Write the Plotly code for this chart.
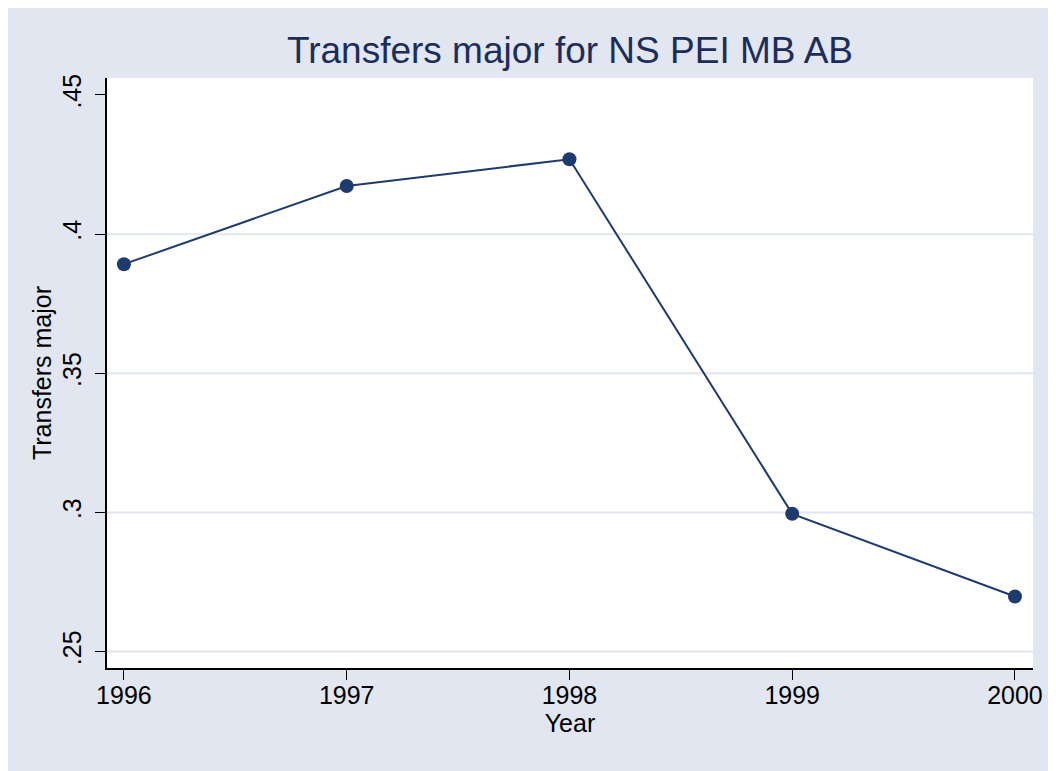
import plotly.graph_objects as go

years = [1996, 1997, 1998, 1999, 2000]
transfers_major = [0.3892, 0.4173, 0.4269, 0.2995, 0.2698]

y_ticks = [0.25, 0.30, 0.35, 0.40, 0.45]
y_tick_text = [".25", ".3", ".35", ".4", ".45"]
grid_values = [0.25, 0.30, 0.35, 0.40]

BG = "#E1E6F0"
NAVY = "#1F3A6C"
FONT = "Liberation Sans, Arial, sans-serif"

fig = go.Figure()
fig.add_trace(go.Scatter(
    x=years,
    y=transfers_major,
    mode="lines+markers",
    line=dict(color=NAVY, width=2),
    marker=dict(color=NAVY, size=14),
    showlegend=False,
))

for g in grid_values:
    fig.add_shape(type="line", xref="paper", yref="y", x0=0, x1=1, y0=g, y1=g,
                  line=dict(color=BG, width=2), layer="below")

# page body adds an 8px offset, so the figure is 8px smaller than the window
fig.update_layout(
    width=1048,
    height=763,
    margin=dict(l=99, r=23, t=70, b=103),
    paper_bgcolor=BG,
    plot_bgcolor="white",
    font=dict(family=FONT, size=25, color="black"),
    title=dict(
        text="Transfers major for NS PEI MB AB",
        x=0.5, xref="paper", xanchor="center",
        y=1 - 42 / 763, yanchor="middle",
        font=dict(family=FONT, size=37, color="#1C2D59"),
    ),
)

fig.update_xaxes(
    range=[1995.924, 2000.081],
    tickvals=years,
    ticks="outside", ticklen=10, tickwidth=1, tickcolor="black",
    ticklabelstandoff=-6,
    showline=True, linecolor="black", linewidth=1.5,
    showgrid=False, zeroline=False, automargin=False,
    title=dict(text="Year", standoff=0, font=dict(size=25)),
    tickfont=dict(size=25),
)
fig.update_yaxes(
    range=[0.2441, 0.4561],
    tickvals=y_ticks, ticktext=y_tick_text, tickangle=-90,
    ticks="outside", ticklen=10, tickwidth=1, tickcolor="black",
    ticklabelstandoff=4,
    showline=True, linecolor="black", linewidth=1.5,
    showgrid=False, zeroline=False, automargin=False,
    title=dict(text="Transfers major", standoff=0, font=dict(size=25)),
    tickfont=dict(size=25),
)

fig.write_html("out.html")
